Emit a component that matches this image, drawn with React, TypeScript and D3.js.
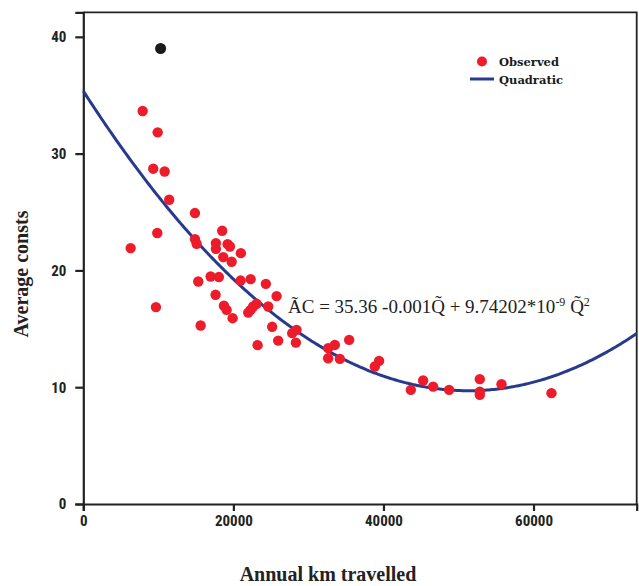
import React, { useEffect, useRef } from "react";
import * as d3 from "d3";

// observed points (annual km, average cost)
const kmObserved = [
  7910, 9910, 9320, 10840, 11450, 14880, 9860, 6310, 18510, 14880,
  15100, 17670, 17670, 19230, 19540, 21000, 18650, 19770, 16970, 18070,
  15320, 20960, 22300, 24330, 17630, 25760, 18740, 19100, 9680, 19900,
  15640, 21980, 22300, 22640, 23100, 24640, 25170, 23230, 25970, 27840,
  28420, 28330, 32630, 33520, 32630, 34190, 35430, 38850, 39420, 43650,
  45290, 46620, 48750, 52840, 52840, 52840, 55730, 62390,
];
const costObserved = [
  33.65, 31.82, 28.71, 28.47, 26.05, 24.91, 23.2, 21.91, 23.39, 22.68,
  22.28, 22.34, 21.85, 22.25, 22.05, 21.48, 21.14, 20.74, 19.48, 19.43,
  19.05, 19.13, 19.25, 18.85, 17.91, 17.8, 16.97, 16.62, 16.86, 15.91,
  15.28, 16.39, 16.62, 16.91, 17.14, 16.91, 15.17, 13.6, 13.99, 14.63,
  14.91, 13.82, 13.34, 13.62, 12.48, 12.43, 14.05, 11.77, 12.25, 9.77,
  10.57, 10.05, 9.77, 10.69, 9.62, 9.34, 10.26, 9.49,
];
// the outlier drawn in black
const outlierKm = [10300];
const outlierCost = [39.0];

// quadratic fit printed on the chart: a + b*Q + c*Q^2
const quadCoef = [35.36, -0.001, 9.74202e-9];

const xTicks = [0, 20000, 40000, 60000];
const yTicks = [0, 10, 20, 30, 40];

const W = 639;
const H = 586;

export default function App() {
  const ref = useRef<SVGSVGElement>(null);

  useEffect(() => {
    const svg = d3.select(ref.current);
    svg.selectAll("*").remove();

    const x = d3.scaleLinear().domain([0, 73750]).range([83.3, 636.7]);
    const y = d3.scaleLinear().domain([0, 42.1]).range([504, 12.3]);

    // frame (top and right)
    svg.append("path")
      .attr("d", `M${x(0)},${y(42.1)}H${x(73750)}V${y(0)}`)
      .attr("fill", "none")
      .attr("stroke", "#222")
      .attr("stroke-width", 1.8);

    const xAxis = svg.append("g")
      .attr("transform", `translate(0,${y(0)})`)
      .call(d3.axisBottom(x).tickValues(xTicks).tickSize(7).tickPadding(4).tickFormat(d3.format("d")));
    const yAxis = svg.append("g")
      .attr("transform", `translate(${x(0)},0)`)
      .call(d3.axisLeft(y).tickValues(yTicks).tickSize(8).tickPadding(9).tickFormat(d3.format("d")));

    [xAxis, yAxis].forEach((g) => {
      g.select(".domain").attr("stroke", "#222").attr("stroke-width", 2.2);
      g.selectAll(".tick line").attr("stroke", "#222").attr("stroke-width", 2.2);
      g.selectAll(".tick text")
        .attr("fill", "#222")
        .style("font-family", "'Liberation Sans Narrow', 'Roboto Condensed', sans-serif")
        .style("font-weight", "bold")
        .style("font-size", "15px");
    });

    // fitted curve
    const curve = d3.range(0, 73751, 250).map((q) => [q, quadCoef[0] + quadCoef[1] * q + quadCoef[2] * q * q]);
    svg.append("path")
      .datum(curve)
      .attr("d", d3.line<number[]>().x((d) => x(d[0])).y((d) => y(d[1])))
      .attr("fill", "none")
      .attr("stroke", "#283a8e")
      .attr("stroke-width", 3);

    // observed points
    svg.append("g")
      .selectAll("circle")
      .data(kmObserved)
      .enter()
      .append("circle")
      .attr("cx", (d) => x(d))
      .attr("cy", (d, i) => y(costObserved[i]))
      .attr("r", 5.2)
      .attr("fill", "#ed1c2a");

    svg.append("g")
      .selectAll("circle")
      .data(outlierKm)
      .enter()
      .append("circle")
      .attr("cx", (d) => x(d))
      .attr("cy", (d, i) => y(outlierCost[i]))
      .attr("r", 5.5)
      .attr("fill", "#1a1a1a");

    // legend
    const lg = svg.append("g")
      .style("font-family", "'DejaVu Serif', serif")
      .style("font-size", "11.5px")
      .style("font-weight", 600);
    lg.append("circle").attr("cx", 482).attr("cy", 61.5).attr("r", 5).attr("fill", "#ed1c2a");
    lg.append("text").attr("x", 499).attr("y", 65.5).text("Observed").attr("fill", "#1a1a1a");
    lg.append("line").attr("x1", 470).attr("x2", 494).attr("y1", 79).attr("y2", 79)
      .attr("stroke", "#283a8e").attr("stroke-width", 3);
    lg.append("text").attr("x", 499).attr("y", 83.5).text("Quadratic").attr("fill", "#1a1a1a");

    // equation
    const eq = svg.append("text")
      .attr("x", 288)
      .attr("y", 313)
      .attr("fill", "#222")
      .style("font-family", "'Liberation Serif', 'Times New Roman', serif")
      .style("font-size", "19px");
    eq.append("tspan").text("ÃC = 35.36 -0.001Q\u0303 + 9.74202*10");
    eq.append("tspan").attr("dy", -7).style("font-size", "12px").text("-9");
    eq.append("tspan").attr("dy", 7).text(" Q\u0303");
    eq.append("tspan").attr("dy", -7).style("font-size", "12px").text("2");

    // axis titles
    svg.append("text")
      .attr("x", 328)
      .attr("y", 581)
      .attr("text-anchor", "middle")
      .attr("fill", "#222")
      .style("font-family", "'Liberation Serif', 'Times New Roman', serif")
      .style("font-weight", "bold")
      .style("font-size", "20px")
      .text("Annual km travelled");
    svg.append("text")
      .attr("transform", "translate(28,274) rotate(-90)")
      .attr("text-anchor", "middle")
      .attr("fill", "#222")
      .style("font-family", "'Liberation Serif', 'Times New Roman', serif")
      .style("font-weight", "bold")
      .style("font-size", "20px")
      .text("Average consts");
  }, []);

  return (
    <svg
      ref={ref}
      width={W}
      height={H}
      style={{ position: "absolute", left: 0, top: 0, background: "#fff" }}
    />
  );
}
